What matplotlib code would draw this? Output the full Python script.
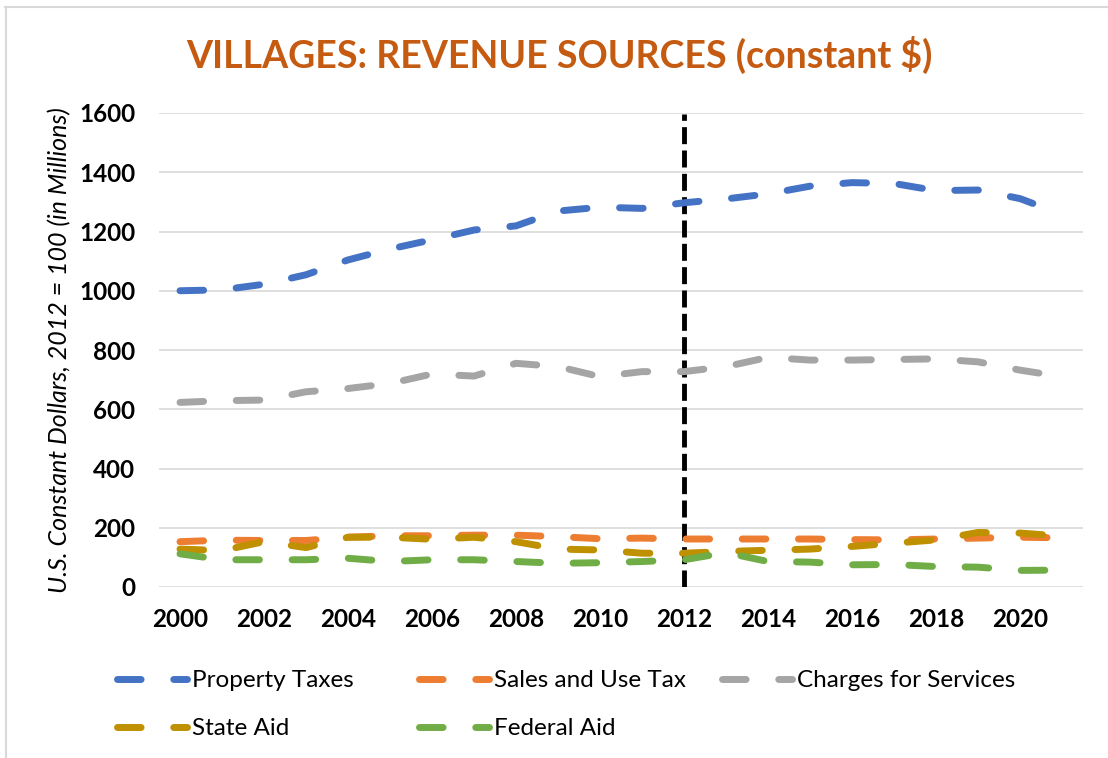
import numpy as np
import matplotlib
matplotlib.use("Agg")
import matplotlib.pyplot as plt
from matplotlib.lines import Line2D

plt.rcParams['font.family'] = ['Lato', 'DejaVu Sans']

years = list(range(2000, 2022))
property_taxes = [1000, 1003, 1022, 1054, 1104, 1141, 1172, 1205, 1219, 1269, 1282,
                  1278, 1297, 1310, 1327, 1353, 1365, 1362, 1338, 1340, 1311, 1258]
sales_use_tax = [153, 158, 157, 157, 168, 173, 173, 175, 175, 170, 163,
                 165, 162, 162, 162, 162, 160, 159, 162, 165, 168, 166]
charges_services = [623, 629, 631, 659, 670, 687, 719, 712, 755, 744, 710,
                    727, 727, 744, 775, 766, 766, 768, 770, 760, 732, 710]
state_aid = [128, 123, 153, 133, 168, 168, 161, 168, 153, 128, 125,
             114, 114, 120, 124, 128, 137, 148, 159, 184, 182, 172]
federal_aid = [112, 92, 92, 92, 97, 86, 92, 92, 86, 80, 82,
               86, 92, 116, 86, 84, 75, 76, 69, 67, 56, 57]

series = [
    ("Property Taxes", property_taxes, "#4472C4"),
    ("Sales and Use Tax", sales_use_tax, "#ED7D31"),
    ("Charges for Services", charges_services, "#A5A5A5"),
    ("State Aid", state_aid, "#BF9000"),
    ("Federal Aid", federal_aid, "#70AD47"),
]
LINE_DASH = (0, (3.4, 4.7))

W, H = 1108, 758
fig = plt.figure(figsize=(W / 100, H / 100), dpi=100)
ax = fig.add_axes([159 / W, 1 - 587 / H, (1083 - 159) / W, (587 - 113) / H])

# vertical marker at base year
ax.plot([2012, 2012], [0, 1595], color="black", lw=3.5, ls=(0, (3.5, 1.3)), zorder=1)

for name, vals, col in series:
    ax.plot(years, vals, color=col, lw=5, ls=LINE_DASH,
            dash_capstyle="round", solid_capstyle="round", zorder=3)

ax.set_xlim(1999.5, 2021.5)
ax.set_ylim(0, 1600)
ax.set_yticks(range(0, 1601, 200))
ax.set_xticks(range(2000, 2021, 2))
ax.grid(axis="y", color="#D9D9D9", lw=1.2, zorder=0)
ax.set_axisbelow(True)
for s in ax.spines.values():
    s.set_visible(False)
ax.tick_params(length=0, labelsize=17.5)
ax.tick_params(axis="x", pad=15)
ax.tick_params(axis="y", pad=17)
for lab in ax.get_xticklabels() + ax.get_yticklabels():
    lab.set_fontweight("bold")

ax.set_ylabel("U.S. Constant Dollars, 2012 = 100 (in Millions)", fontsize=18,
              style="italic", labelpad=6)

fig.text(559 / W, 1 - 55 / H, "VILLAGES: REVENUE SOURCES (constant $)",
         ha="center", va="center", fontsize=27, fontweight="bold", color="#C55A11")

# legend: three equal-width columns like the original
col_x = [116.5, 418.5, 721.5]
cols = [[0, 3], [1, 4], [2]]
for cx, idx in zip(col_x, cols):
    handles = [Line2D([0], [0], color=series[i][2], lw=5, ls=LINE_DASH,
                      dash_capstyle="round") for i in idx]
    labels = [series[i][0] for i in idx]
    fig.legend(handles, labels, loc="upper left", bbox_to_anchor=(cx / W, 1 - 670 / H),
               frameon=False, fontsize=17.5, handlelength=2.88, handletextpad=0.23,
               labelspacing=1.12, borderpad=0, borderaxespad=0)

# chart-area border (top and left visible)
fig.add_artist(Line2D([5 / W, 1], [1 - 7 / H, 1 - 7 / H], color="#D9D9D9", lw=1.5))
fig.add_artist(Line2D([6 / W, 6 / W], [0, 1 - 7 / H], color="#D9D9D9", lw=1.5))

fig.savefig("out.png", dpi=100)
